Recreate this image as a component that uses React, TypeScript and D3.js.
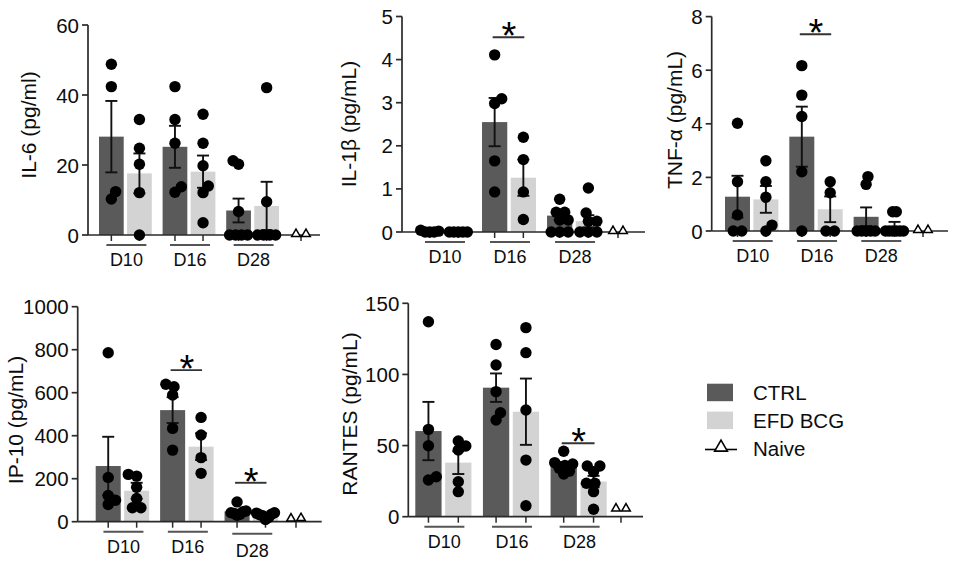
import React from "react";
import * as d3 from "d3";

const groups = ["D10", "D16", "D28"];
const seriesNames = ["CTRL", "EFD BCG"];
const naiveName = "Naive";

// bar order: CTRL D10, EFD D10, CTRL D16, EFD D16, CTRL D28, EFD D28
const il6Mean = [28.1, 17.6, 25.2, 18.1, 7.0, 8.3];
const il6Sem = [10.2, 5.7, 6.0, 4.6, 3.4, 6.9];
const il6Points = [
  [48.8, 42.4, 12.4, 10.3],
  [33, 24.8, 20.2, 12.1, 0],
  [42.4, 33, 26.2, 13.8, 12.2],
  [34.5, 26.2, 19.8, 14, 12.1, 3.5],
  [21.2, 20.2, 6.7, 0, 0, 0, 0],
  [42.1, 9.5, 0, 0, 0, 0],
];
const il6Naive = [0, 0];
const il6Ticks = [0, 20, 40, 60];

const il1bMean = [0.02, 0.01, 2.55, 1.26, 0.38, 0.25];
const il1bSem = [0.01, 0.01, 0.56, 0.42, 0.1, 0.14];
const il1bPoints = [
  [0.04, 0.02, 0, 0, 0],
  [0, 0, 0, 0, 0],
  [4.11, 3.09, 2.98, 1.65, 0.93],
  [2.2, 1.68, 0.93, 0.29],
  [0.76, 0.46, 0.46, 0.28, 0.28, 0, 0, 0],
  [1.02, 0.44, 0.25, 0.25, 0, 0, 0],
];
const il1bNaive = [0, 0];
const il1bTicks = [0, 1, 2, 3, 4, 5];

const tnfMean = [1.28, 1.18, 3.52, 0.81, 0.53, 0.17];
const tnfSem = [0.78, 0.5, 1.12, 0.48, 0.35, 0.17];
const tnfPoints = [
  [4.02, 1.84, 0.6, 0, 0],
  [2.62, 1.84, 1.26, 0.22, 0],
  [6.17, 5.07, 4.27, 2.21, 0],
  [1.84, 1.43, 0, 0],
  [2.03, 1.74, 0, 0, 0, 0, 0],
  [0.72, 0.72, 0, 0, 0, 0, 0, 0],
];
const tnfNaive = [0, 0];
const tnfTicks = [0, 2, 4, 6, 8];

const ip10Mean = [259, 144, 519, 349, 48, 31];
const ip10Sem = [136, 37, 60, 62, 8, 5];
const ip10Points = [
  [786, 206, 122, 100, 80],
  [220, 212, 160, 108, 65, 65],
  [639, 628, 589, 434, 333],
  [485, 403, 298, 225],
  [92, 50, 46, 42, 38, 35, 30],
  [42, 40, 35, 32, 28, 20, 10],
];
const ip10Naive = [10, 12];
const ip10Ticks = [0, 200, 400, 600, 800, 1000];

const rantesMean = [60.2, 38, 90.7, 73.8, 36.5, 24.7];
const rantesSem = [20.5, 8, 10, 23.3, 2, 4];
const rantesPoints = [
  [137, 61.4, 49.9, 28.1, 25.8],
  [53.2, 49.7, 46.9, 24.6, 17.6],
  [121, 106.6, 87.9, 73.1, 68],
  [132.9, 115.3, 75, 39.8, 7.7],
  [46, 38, 37, 36, 34, 32, 30],
  [35.6, 35.6, 31.6, 23.5, 23.5, 17.6, 5.2],
];
const rantesNaive = [5, 5];
const rantesTicks = [0, 50, 100, 150];

const FONT = "'Liberation Sans', Arial, sans-serif";
const CTRL_COLOR = "#5a5a5a";
const EFD_COLOR = "#d3d3d3";
const AXIS_COLOR = "#2a2a2a";
const TEXT_COLOR = "#0d0d0d";

type Sig = { group: string; value: number };
type PanelCfg = {
  title: string;
  mean: number[];
  sem: number[];
  points: number[][];
  naive: number[];
  ticks: number[];
  yMax: number;
  axisX: number;
  xEnd: number;
  y0: number;
  yTop: number;
  barStart: number;
  barEnd: number;
  naiveX: number;
  titleX: number;
  titleY: number;
  sig: Sig[];
  labelShift?: number[];
};

function swarm(ys: number[], D: number, maxHalf: number): number[] {
  const n = ys.length;
  const idx = ys.map((_, i) => i).sort((a, b) => ys[b] - ys[a]);
  const xs = new Array(n).fill(0);
  const placed: number[] = [];
  let balance = 0;
  for (const i of idx) {
    const cands = [0];
    for (const j of placed) {
      const dy = Math.abs(ys[i] - ys[j]);
      if (dy < D) {
        const dx = Math.sqrt(D * D - dy * dy);
        cands.push(xs[j] + dx, xs[j] - dx);
      }
    }
    const ok = cands.filter((c) =>
      placed.every((j) => Math.hypot(c - xs[j], ys[i] - ys[j]) >= D - 1e-6)
    );
    ok.sort(
      (a, b) =>
        Math.abs(a) - Math.abs(b) || (balance > 0 ? a - b : b - a)
    );
    xs[i] = ok[0];
    balance += xs[i];
    placed.push(i);
  }
  const seen = new Set<number>();
  for (let i = 0; i < n; i++) {
    if (seen.has(i)) continue;
    const row = ys.map((_, k) => k).filter((k) => Math.abs(ys[k] - ys[i]) < 0.5);
    row.forEach((k) => seen.add(k));
    if (row.length < 2) continue;
    const isolated = ys.every(
      (v, k) => row.includes(k) || Math.abs(v - ys[i]) >= D
    );
    if (!isolated) continue;
    const mn = d3.min(row, (k) => xs[k]) as number;
    const mx = d3.max(row, (k) => xs[k]) as number;
    const shift = -(mn + mx) / 2;
    row.forEach((k) => (xs[k] += shift));
  }
  const m = d3.max(xs, (v) => Math.abs(v)) || 0;
  if (m > maxHalf) return xs.map((v) => (v * maxHalf) / m);
  return xs;
}

function Panel({ cfg }: { cfg: PanelCfg }) {
  const y = d3.scaleLinear().domain([0, cfg.yMax]).range([cfg.y0, cfg.yTop]);
  const gx = d3
    .scaleBand<string>()
    .domain(groups)
    .range([cfg.barStart, cfg.barEnd])
    .paddingInner(0.17);
  const sx = d3
    .scaleBand<string>()
    .domain(seriesNames)
    .range([0, gx.bandwidth()])
    .paddingInner(0.12);
  const bw = sx.bandwidth();
  const bars = groups.flatMap((g, gi) =>
    seriesNames.map((s, si) => {
      const i = gi * 2 + si;
      const x0 = (gx(g) as number) + (sx(s) as number);
      return { i, g, s, x0, cx: x0 + bw / 2 };
    })
  );
  const centerOf = (g: string, s: string) =>
    (gx(g) as number) + (sx(s) as number) + bw / 2;
  const tri = d3.symbol(d3.symbolTriangle, 32)() as string;
  const r = 5.7;
  return (
    <g>
      {bars.map((b) => (
        <rect
          key={"bar" + b.i}
          x={b.x0}
          width={bw}
          y={y(cfg.mean[b.i])}
          height={cfg.y0 - y(cfg.mean[b.i])}
          fill={b.s === "CTRL" ? CTRL_COLOR : EFD_COLOR}
        />
      ))}
      {bars.map((b) => {
        const top = y(cfg.mean[b.i] + cfg.sem[b.i]);
        const bot = y(Math.max(0, cfg.mean[b.i] - cfg.sem[b.i]));
        return (
          <g key={"err" + b.i} stroke="#111" strokeWidth={1.9}>
            <line x1={b.cx} x2={b.cx} y1={top} y2={bot} />
            <line x1={b.cx - 6} x2={b.cx + 6} y1={top} y2={top} />
            <line x1={b.cx - 6} x2={b.cx + 6} y1={bot} y2={bot} />
          </g>
        );
      })}
      <line x1={cfg.axisX} x2={cfg.axisX} y1={cfg.y0} y2={cfg.yTop} stroke={AXIS_COLOR} strokeWidth={1.7} />
      <line x1={cfg.axisX} x2={cfg.xEnd} y1={cfg.y0} y2={cfg.y0} stroke={AXIS_COLOR} strokeWidth={1.7} />
      {cfg.ticks.map((t) => (
        <g key={"yt" + t}>
          <line x1={cfg.axisX - 6} x2={cfg.axisX} y1={y(t)} y2={y(t)} stroke={AXIS_COLOR} strokeWidth={1.7} />
          <text
            x={cfg.axisX - 9}
            y={y(t)}
            textAnchor="end"
            dominantBaseline="central"
            fontSize={20.5}
            fontFamily={FONT}
            fill={TEXT_COLOR}
          >
            {t}
          </text>
        </g>
      ))}
      {[...bars.map((b) => b.cx), cfg.naiveX].map((cx, k) => (
        <line key={"xt" + k} x1={cx} x2={cx} y1={cfg.y0} y2={cfg.y0 + 6} stroke={AXIS_COLOR} strokeWidth={1.5} />
      ))}
      {groups.map((g, gi) => {
        const c = (gx(g) as number) + gx.bandwidth() / 2 + 1;
        const dy = cfg.labelShift ? cfg.labelShift[gi] : 0;
        return (
          <g key={"gl" + g}>
            <line x1={c - 20} x2={c + 20} y1={cfg.y0 + 10 + dy / 2} y2={cfg.y0 + 10 + dy / 2} stroke="#555" strokeWidth={2} />
            <text
              x={c}
              y={cfg.y0 + 25 + dy}
              textAnchor="middle"
              dominantBaseline="central"
              fontSize={18}
              fontFamily={FONT}
              fill={TEXT_COLOR}
            >
              {g}
            </text>
          </g>
        );
      })}
      {bars.map((b) => {
        const ys = cfg.points[b.i].map((v) => y(v));
        const xs = swarm(ys, 8.5, 9);
        return cfg.points[b.i].map((v, k) => (
          <circle key={"pt" + b.i + "_" + k} cx={b.cx + xs[k]} cy={ys[k]} r={r} fill="#000" />
        ));
      })}
      {cfg.naive.map((v, k) => (
        <path
          key={"nv" + k}
          d={tri}
          transform={`translate(${cfg.naiveX + (k - (cfg.naive.length - 1) / 2) * 10},${y(v) - 1})`}
          fill="#fff"
          stroke="#000"
          strokeWidth={1.5}
        />
      ))}
      {cfg.sig.map((s, k) => {
        const x1 = centerOf(s.group, "CTRL");
        const x2 = centerOf(s.group, "EFD BCG");
        const ly = y(s.value);
        return (
          <g key={"sig" + k}>
            <line x1={x1 - 2} x2={x2 + 1} y1={ly} y2={ly} stroke="#333" strokeWidth={1.9} />
            <text
              x={(x1 + x2) / 2}
              y={ly + 12}
              textAnchor="middle"
              fontSize={38}
              fontFamily={FONT}
              fill="#000"
            >
              *
            </text>
          </g>
        );
      })}
      <text
        transform={`translate(${cfg.titleX},${cfg.titleY}) rotate(-90)`}
        textAnchor="middle"
        fontSize={21}
        fontFamily={FONT}
        fill={TEXT_COLOR}
      >
        {cfg.title}
      </text>
    </g>
  );
}

const panels: PanelCfg[] = [
  {
    title: "IL-6 (pg/ml)",
    mean: il6Mean, sem: il6Sem, points: il6Points, naive: il6Naive, ticks: il6Ticks, yMax: 60,
    axisX: 88, xEnd: 320, y0: 235, yTop: 25, barStart: 99, barEnd: 279, naiveX: 301,
    titleX: 36, titleY: 125, sig: [],
  },
  {
    title: "IL-1\u03b2 (pg/mL)",
    mean: il1bMean, sem: il1bSem, points: il1bPoints, naive: il1bNaive, ticks: il1bTicks, yMax: 5,
    axisX: 402, xEnd: 645, y0: 232, yTop: 16.5, barStart: 417, barEnd: 601, naiveX: 618,
    titleX: 356, titleY: 124, sig: [{ group: "D16", value: 4.52 }],
  },
  {
    title: "TNF-\u03b1 (pg/mL)",
    mean: tnfMean, sem: tnfSem, points: tnfPoints, naive: tnfNaive, ticks: tnfTicks, yMax: 8,
    axisX: 711.7, xEnd: 948, y0: 231, yTop: 16.6, barStart: 725, barEnd: 907, naiveX: 923,
    titleX: 682, titleY: 120, sig: [{ group: "D16", value: 7.34 }],
  },
  {
    title: "IP-10 (pg/mL)",
    mean: ip10Mean, sem: ip10Sem, points: ip10Points, naive: ip10Naive, ticks: ip10Ticks, yMax: 1000,
    axisX: 77.7, xEnd: 321.7, y0: 521.7, yTop: 306.7, barStart: 95.7, barEnd: 278, naiveX: 296,
    titleX: 23, titleY: 420,
    sig: [{ group: "D16", value: 705 }, { group: "D28", value: 181 }],
    labelShift: [0, 0, 4],
  },
  {
    title: "RANTES (pg/mL)",
    mean: rantesMean, sem: rantesSem, points: rantesPoints, naive: rantesNaive, ticks: rantesTicks, yMax: 150,
    axisX: 408.3, xEnd: 643, y0: 516.7, yTop: 303.3, barStart: 415.3, barEnd: 606.7, naiveX: 621,
    titleX: 356.5, titleY: 414, sig: [{ group: "D28", value: 51.6 }],
  },
];

function Legend() {
  const tri = d3.symbol(d3.symbolTriangle, 70)() as string;
  const items = [...seriesNames, naiveName];
  const rowY = d3.scalePoint<string>().domain(items).range([392.7, 448.5]);
  return (
    <g>
      {items.map((name) => {
        const cy = rowY(name) as number;
        return (
          <g key={name}>
            {name === naiveName ? (
              <g>
                <line x1={705} x2={737} y1={cy + 1} y2={cy + 1} stroke="#000" strokeWidth={1.6} />
                <path d={tri} transform={`translate(721,${cy - 1})`} fill="#fff" stroke="#000" strokeWidth={1.6} />
              </g>
            ) : (
              <rect x={707} y={cy - 9} width={26} height={17.5} fill={name === "CTRL" ? CTRL_COLOR : EFD_COLOR} />
            )}
            <text x={753} y={cy} dominantBaseline="central" fontSize={20.5} fontFamily={FONT} fill={TEXT_COLOR}>
              {name}
            </text>
          </g>
        );
      })}
    </g>
  );
}

export default function App() {
  return (
    <svg
      width={957}
      height={565}
      style={{ position: "absolute", left: 0, top: 0, background: "#fff" }}
    >
      <rect width={957} height={565} fill="#fff" />
      {panels.map((p) => (
        <Panel key={p.title} cfg={p} />
      ))}
      <Legend />
    </svg>
  );
}
